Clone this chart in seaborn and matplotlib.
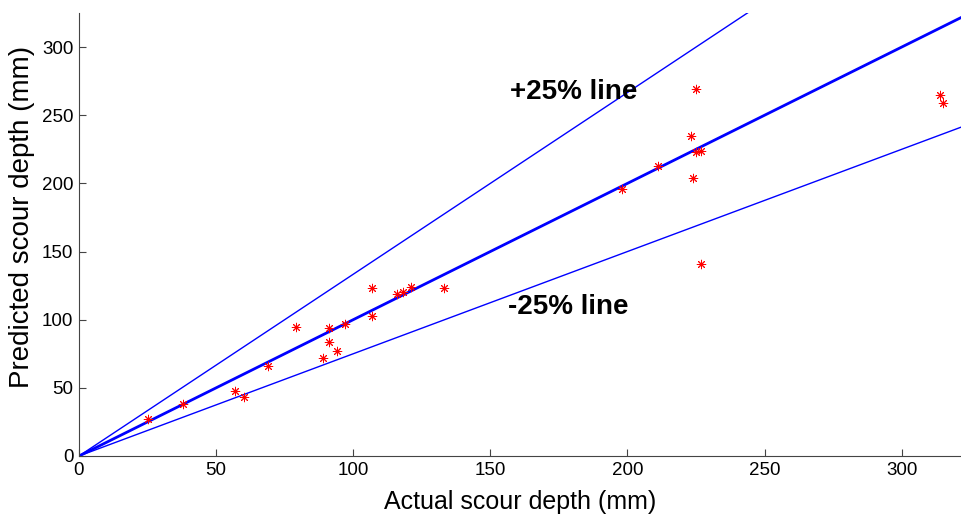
import matplotlib
matplotlib.use("Agg")
import matplotlib.pyplot as plt
import numpy as np
import pandas as pd
import seaborn as sns

# Measured vs. predicted scour depths (mm)
actual = [25, 38, 57, 60, 69, 79, 89, 91, 91, 94, 97, 107, 107, 116, 118, 121, 133,
          198, 211, 223, 225, 227, 224, 225, 227, 314, 315]
predicted = [27, 38, 48, 43, 66, 95, 72, 94, 84, 77, 97, 123, 103, 119, 120, 124, 123,
             196, 213, 235, 223, 224, 204, 269, 141, 265, 259]

# Reference lines: perfect agreement and the +/-25% bands
ref_names = ["+25%", "1:1", "-25%"]
ref_slopes = [1 / 0.75, 1.0, 0.75]
ref_widths = [1.0, 2.0, 1.0]

x_max, y_max = 322, 325

sns.set_style("white")
plt.rcParams["font.family"] = ["Liberation Sans", "DejaVu Sans"]
plt.rcParams["text.color"] = "black"
plt.rcParams["axes.labelcolor"] = "black"
plt.rcParams["xtick.color"] = "black"
plt.rcParams["ytick.color"] = "black"

fig = plt.figure(figsize=(9.62, 5.14), dpi=100)
ax = fig.add_axes([79 / 962, 1 - 456 / 514, 1 - 79 / 962, (456 - 13) / 514])

span = np.array([0.0, x_max])
for name, slope, lw in zip(ref_names, ref_slopes, ref_widths):
    ref = pd.DataFrame({"x": span, "y": span * slope})
    sns.lineplot(data=ref, x="x", y="y", color="#0000ff", linewidth=lw, ax=ax,
                 sort=False, estimator=None)

pts = pd.DataFrame({"Actual": actual, "Predicted": predicted})
sns.scatterplot(data=pts, x="Actual", y="Predicted", marker=(8, 2, 0), color="red",
                s=38, linewidth=0.7, ax=ax, zorder=3)

ax.text(157, 267, "+25% line", fontsize=20, fontweight="bold", va="center", ha="left")
ax.text(156.5, 109.5, "-25% line", fontsize=20, fontweight="bold", va="center", ha="left")

ax.set_xlim(0, x_max)
ax.set_ylim(0, y_max)
ax.set_xticks(range(0, 301, 50))
ax.set_yticks(range(0, 301, 50))
ax.tick_params(direction="in", length=5, width=0.8, labelsize=13.5, pad=4,
               bottom=True, left=True, top=False, right=False)
ax.tick_params(colors="#444444", labelcolor="black")
for side in ("top", "right"):
    ax.spines[side].set_visible(False)
for side in ("left", "bottom"):
    ax.spines[side].set_color("#444444")
    ax.spines[side].set_linewidth(0.8)

ax.set_xlabel("Actual scour depth (mm)", fontsize=18, labelpad=8)
ax.set_ylabel("Predicted scour depth (mm)", fontsize=20)
ax.yaxis.set_label_coords(-0.05, 0.54)

fig.savefig("out.png", dpi=100)
